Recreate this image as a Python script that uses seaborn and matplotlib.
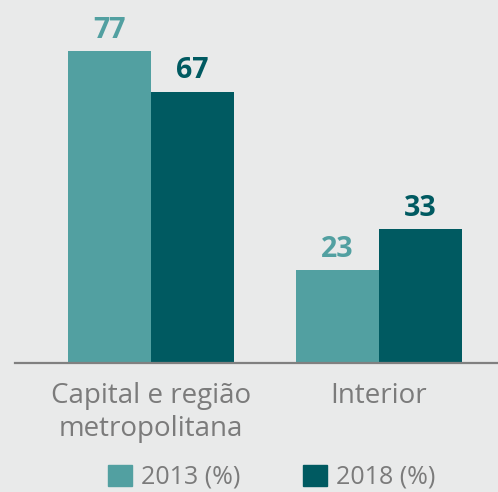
import pandas as pd
import matplotlib.pyplot as plt
import seaborn as sns
import matplotlib

# dados
categorias = ['Capital e região\nmetropolitana', 'Interior']
anos = ['2013 (%)', '2018 (%)']
valores_2013 = [77, 23]
valores_2018 = [67, 33]

cores = {'2013 (%)': '#52a0a1', '2018 (%)': '#005a61'}
fundo = '#e9eaea'

df = pd.DataFrame({
    'categoria': categorias * 2,
    'ano': [anos[0]] * 2 + [anos[1]] * 2,
    'valor': valores_2013 + valores_2018,
})

sns.set_theme(style='white')
matplotlib.rcParams['font.family'] = ['Open Sans', 'DejaVu Sans']

fig = plt.figure(figsize=(4.98, 4.92), dpi=100, facecolor=fundo)
ax = fig.add_axes([15 / 498, 1 - 363 / 492, 483 / 498, 363 / 492])
ax.set_facecolor(fundo)

sns.barplot(data=df, x='categoria', y='valor', hue='ano', palette=cores,
            width=0.73, saturation=1, linewidth=0, ax=ax, legend=True)

# rótulos de valor
for cont, ano in zip(ax.containers, anos):
    ax.bar_label(cont, padding=4.5, fontsize=20.5, fontweight='bold', color=cores[ano])

ax.set_xlim(-0.596, 1.522)
ax.set_ylim(0, 89.6)
ax.set_xlabel('')
ax.set_ylabel('')
ax.set_yticks([])
ax.tick_params(axis='x', length=0, pad=14, labelsize=20, labelcolor='#7b7b7b')
for s in ['top', 'right', 'left']:
    ax.spines[s].set_visible(False)
ax.spines['bottom'].set_color('#808080')
ax.spines['bottom'].set_linewidth(1.6)

# legenda
ax.get_legend().remove()
handles = [matplotlib.patches.Patch(color=cores[a]) for a in anos]
fig.legend(handles, anos, loc='center', bbox_to_anchor=(0.545, 0.03), ncol=2,
           frameon=False, fontsize=18, labelcolor='#7b7b7b', handlelength=0.96,
           handleheight=0.96, handletextpad=0.36, columnspacing=2.5)

plt.savefig('out.png', dpi=100, facecolor=fundo)
